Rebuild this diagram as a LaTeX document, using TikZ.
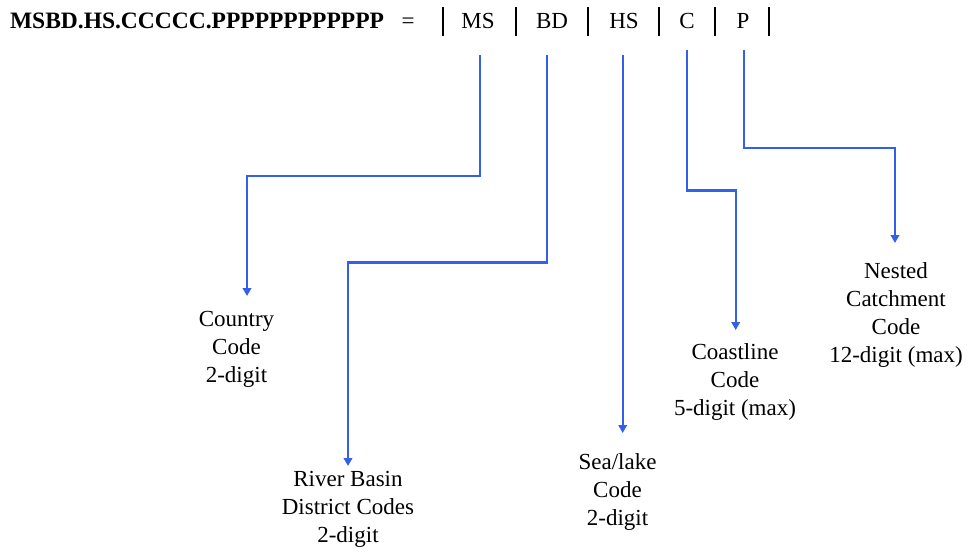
\documentclass[tikz,border=0pt]{standalone}
\usepackage{fontspec}
\setmainfont{Liberation Serif}
\usetikzlibrary{arrows.meta}
\definecolor{linkblue}{RGB}{52,95,236}
\begin{document}
\begin{tikzpicture}[x=1pt,y=-1pt,
  every node/.style={inner sep=0pt, outer sep=0pt},
  headtext/.style={anchor=base, font=\fontsize{23}{27.5}\selectfont},
  segment/.style={headtext},
  divider/.style={line width=2.4pt, black},
  label/.style={anchor=north, align=center, font=\fontsize{23}{28}\selectfont},
  link/.style={draw=linkblue, line width=2.2pt, -{Triangle[width=8.5pt,length=8pt]}}]
  \useasboundingbox (0,0) rectangle (968,557);

  % code pattern and its segments
  \node[headtext, anchor=base west, font=\fontsize{23.5}{27.5}\selectfont\bfseries] (pattern) at (10,28) {MSBD.HS.CCCCC.PPPPPPPPPPPP};
  \node[headtext] (eq) at (408,28) {=};
  \node[segment] (ms) at (478,28) {MS};
  \node[segment] (bd) at (552,28) {BD};
  \node[segment] (hs) at (624,28) {HS};
  \node[segment] (c)  at (687,28) {C};
  \node[segment] (p)  at (743,28) {P};
  \foreach \x in {442.7,515.7,588,659,715,769}
    \draw[divider] (\x,7) -- (\x,36);

  % field descriptions
  \node[label] (country) at (236.5,311.5) {Country\\Code\\2-digit};
  \node[label] (basin)   at (348,471.5) {River Basin\\District Codes\\2-digit};
  \node[label] (sea)     at (617.5,454) {Sea/lake\\Code\\2-digit};
  \node[label] (coast)   at (735,343.5) {Coastline\\Code\\5-digit (max)};
  \node[label] (nested)  at (896,263) {Nested\\Catchment\\Code\\12-digit (max)};

  % start points below the segments and arrow tips above the descriptions
  \coordinate (msstart) at (480,55);
  \coordinate (bdstart) at (546.7,55);
  \coordinate (hsstart) at (622.7,55);
  \coordinate (cstart)  at (686.7,50);
  \coordinate (pstart)  at (743.7,50);
  \coordinate (mstip) at (247,296);
  \coordinate (bdtip) at (348,466);
  \coordinate (hstip) at (622.7,433);
  \coordinate (ctip)  at (735.7,330);
  \coordinate (ptip)  at (895,243);

  \draw[link] (msstart) -- (msstart |- 0,176) -| (mstip);
  \draw[link] (bdstart) -- (bdstart |- 0,262.5) -| (bdtip);
  \draw[link] (hsstart) -- (hstip);
  \draw[link] (cstart) -- (cstart |- 0,190.5) -| (ctip);
  \draw[link] (pstart) -- (pstart |- 0,148) -| (ptip);
\end{tikzpicture}
\end{document}
